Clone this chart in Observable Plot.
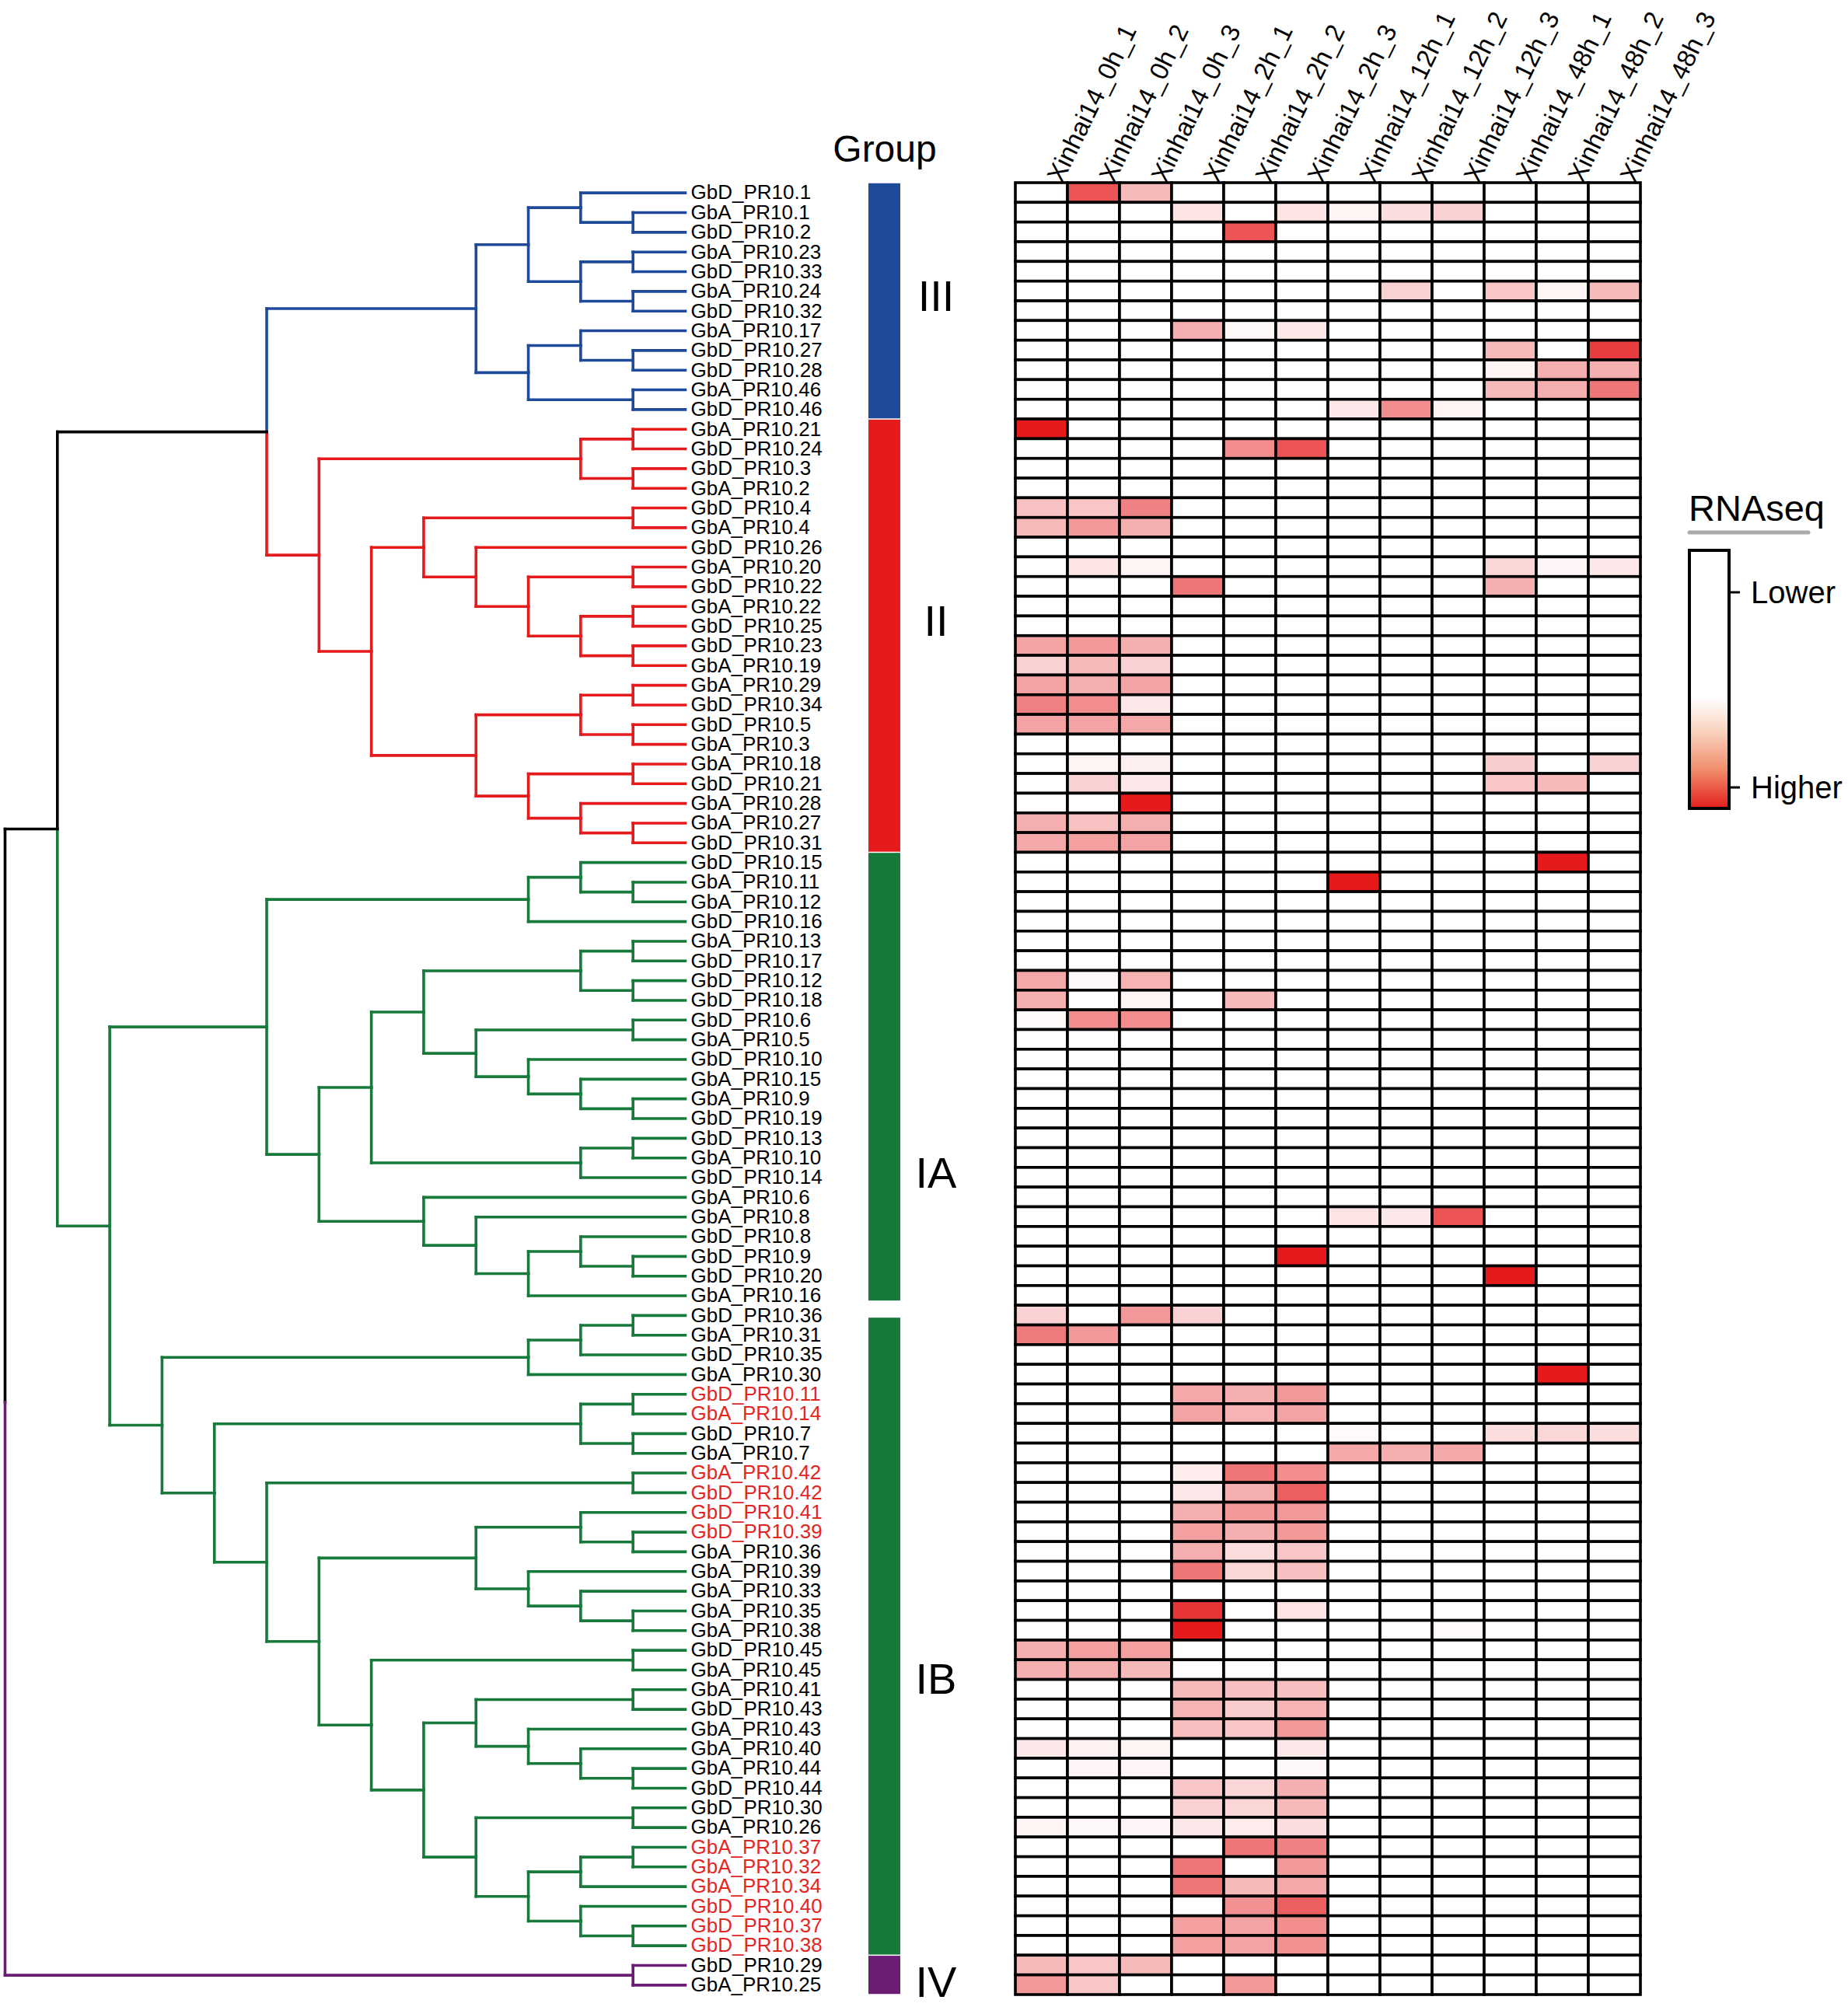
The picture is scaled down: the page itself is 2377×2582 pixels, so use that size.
<!DOCTYPE html>
<html><head><meta charset="utf-8">
<script src="https://cdn.jsdelivr.net/npm/d3@7"></script>
<script src="https://cdn.jsdelivr.net/npm/@observablehq/plot@0.6"></script>
<style>
html,body{margin:0;padding:0;background:#fff;}
#wrap{position:relative;width:2377px;height:2582px;overflow:hidden;background:#fff;}
#wrap svg{position:absolute;left:0;top:0;overflow:visible;}
</style></head><body><div id="wrap"></div>
<script>
// ---------- data ----------
const leaves = [
"GbD_PR10.1","GbA_PR10.1","GbD_PR10.2","GbA_PR10.23","GbD_PR10.33","GbA_PR10.24","GbD_PR10.32","GbA_PR10.17","GbD_PR10.27","GbD_PR10.28","GbA_PR10.46","GbD_PR10.46",
"GbA_PR10.21","GbD_PR10.24","GbD_PR10.3","GbA_PR10.2","GbD_PR10.4","GbA_PR10.4","GbD_PR10.26","GbA_PR10.20","GbD_PR10.22","GbA_PR10.22","GbD_PR10.25","GbD_PR10.23","GbA_PR10.19","GbA_PR10.29","GbD_PR10.34","GbD_PR10.5","GbA_PR10.3","GbA_PR10.18","GbD_PR10.21","GbA_PR10.28","GbA_PR10.27","GbD_PR10.31",
"GbD_PR10.15","GbA_PR10.11","GbA_PR10.12","GbD_PR10.16","GbA_PR10.13","GbD_PR10.17","GbD_PR10.12","GbD_PR10.18","GbD_PR10.6","GbA_PR10.5","GbD_PR10.10","GbA_PR10.15","GbA_PR10.9","GbD_PR10.19","GbD_PR10.13","GbA_PR10.10","GbD_PR10.14","GbA_PR10.6","GbA_PR10.8","GbD_PR10.8","GbD_PR10.9","GbD_PR10.20","GbA_PR10.16",
"GbD_PR10.36","GbA_PR10.31","GbD_PR10.35","GbA_PR10.30","GbD_PR10.11","GbA_PR10.14","GbD_PR10.7","GbA_PR10.7","GbA_PR10.42","GbD_PR10.42","GbD_PR10.41","GbD_PR10.39","GbA_PR10.36","GbA_PR10.39","GbA_PR10.33","GbA_PR10.35","GbA_PR10.38","GbD_PR10.45","GbA_PR10.45","GbA_PR10.41","GbD_PR10.43","GbA_PR10.43","GbA_PR10.40","GbA_PR10.44","GbD_PR10.44","GbD_PR10.30","GbA_PR10.26","GbA_PR10.37","GbA_PR10.32","GbA_PR10.34","GbD_PR10.40","GbD_PR10.37","GbD_PR10.38",
"GbD_PR10.29","GbA_PR10.25"
];
const redLabels = ["GbD_PR10.11","GbA_PR10.14","GbA_PR10.42","GbD_PR10.42","GbD_PR10.41","GbD_PR10.39","GbA_PR10.37","GbA_PR10.32","GbA_PR10.34","GbD_PR10.40","GbD_PR10.37","GbD_PR10.38"];
const columns = ["Xinhai14_0h_1","Xinhai14_0h_2","Xinhai14_0h_3","Xinhai14_2h_1","Xinhai14_2h_2","Xinhai14_2h_3","Xinhai14_12h_1","Xinhai14_12h_2","Xinhai14_12h_3","Xinhai14_48h_1","Xinhai14_48h_2","Xinhai14_48h_3"];
// relative expression (0 = lower, 1 = higher), one row per leaf
const values = [
[0,.75,.3,0,0,0,0,0,0,0,0,0],
[0,0,0,.12,0,.12,.05,.15,.2,0,0,0],
[0,0,0,0,.75,0,0,0,0,0,0,0],
[0,0,0,0,0,0,0,0,0,0,0,0],
[0,0,0,0,0,0,0,0,0,0,0,0],
[0,0,0,0,0,0,0,.2,0,.25,.05,.3],
[0,0,0,0,0,0,0,0,0,0,0,0],
[0,0,0,.35,.03,.1,0,0,0,0,0,0],
[0,0,0,0,0,0,0,0,0,.3,0,.85],
[0,0,0,0,0,0,0,0,0,.05,.35,.35],
[0,0,0,0,0,0,0,0,0,.3,.35,.6],
[0,0,0,0,0,0,.1,.5,.05,0,0,0],
[1,0,0,0,0,0,0,0,0,0,0,0],
[0,0,0,0,.5,.75,0,0,0,0,0,0],
[0,0,0,0,0,0,0,0,0,0,0,0],
[0,0,0,0,0,0,0,0,0,0,0,0],
[.27,.25,.55,0,0,0,0,0,0,0,0,0],
[.3,.45,.35,0,0,0,0,0,0,0,0,0],
[0,0,0,0,0,0,0,0,0,0,0,0],
[0,.12,.05,0,0,0,0,0,0,.18,.04,.1],
[0,0,0,.6,0,0,0,0,0,.35,0,0],
[0,0,0,0,0,0,0,0,0,0,0,0],
[0,0,0,0,0,0,0,0,0,0,0,0],
[.4,.45,.35,0,0,0,0,0,0,0,0,0],
[.2,.3,.2,0,0,0,0,0,0,0,0,0],
[.4,.35,.4,0,0,0,0,0,0,0,0,0],
[.55,.5,.1,0,0,0,0,0,0,0,0,0],
[.4,.4,.38,0,0,0,0,0,0,0,0,0],
[0,0,0,0,0,0,0,0,0,0,0,0],
[0,.05,.07,0,0,0,0,0,0,.22,0,.2],
[0,.2,.1,0,0,0,0,0,0,.25,.3,0],
[0,0,1,0,0,0,0,0,0,0,0,0],
[.35,.27,.35,0,0,0,0,0,0,0,0,0],
[.38,.42,.4,0,0,0,0,0,0,0,0,0],
[0,0,0,0,0,0,0,0,0,0,1,0],
[0,0,0,0,0,0,1,0,0,0,0,0],
[0,0,0,0,0,0,0,0,0,0,0,0],
[0,0,0,0,0,0,0,0,0,0,0,0],
[0,0,0,0,0,0,0,0,0,0,0,0],
[0,0,0,0,0,0,0,0,0,0,0,0],
[.38,.03,.33,0,0,0,0,0,0,0,0,0],
[.35,0,.05,0,.3,0,0,0,0,0,0,0],
[.02,.5,.5,0,0,0,0,0,0,0,0,0],
[0,0,0,0,0,0,0,0,0,0,0,0],
[0,0,0,0,0,0,0,0,0,0,0,0],
[0,0,0,0,0,0,0,0,0,0,0,0],
[0,0,0,0,0,0,0,0,0,0,0,0],
[0,0,0,0,0,0,0,0,0,0,0,0],
[0,0,0,0,0,0,0,0,0,0,0,0],
[0,0,0,0,0,0,0,0,0,0,0,0],
[0,0,0,0,0,0,0,0,0,0,0,0],
[0,0,0,0,0,0,0,0,0,0,0,0],
[0,0,0,0,0,0,.12,.1,.75,0,0,0],
[0,0,0,0,0,0,0,0,0,0,0,0],
[0,0,0,0,0,1,0,0,0,0,0,0],
[0,0,0,0,0,0,0,0,0,1,0,0],
[0,0,0,0,0,0,0,0,0,0,0,0],
[.2,0,.45,.2,0,0,0,0,0,0,0,0],
[.58,.45,0,0,0,0,0,0,0,0,0,0],
[0,0,0,0,0,0,0,0,0,0,0,0],
[0,0,0,0,0,0,0,0,0,0,1,0],
[0,0,0,.38,.35,.45,0,0,0,0,0,0],
[0,0,0,.4,.33,.4,0,0,0,0,0,0],
[0,0,0,0,0,0,.02,0,0,.15,.18,.15],
[0,0,0,0,0,0,.38,.35,.38,0,0,0],
[0,0,0,.08,.6,.5,0,0,0,0,0,0],
[0,0,0,.1,.35,.7,0,0,0,0,0,0],
[0,0,0,.35,.45,.45,0,0,0,0,0,0],
[0,0,0,.42,.35,.45,0,0,0,0,0,0],
[0,0,0,.35,.15,.25,0,0,0,0,0,0],
[0,0,0,.6,.18,.28,0,0,0,0,0,0],
[0,0,0,0,0,0,0,0,0,0,0,0],
[0,0,0,.88,0,.12,0,0,0,0,0,0],
[0,0,0,1,0,0,0,0,.02,0,0,0],
[.35,.42,.42,0,0,0,0,0,0,0,0,0],
[.35,.35,.3,0,0,0,0,0,0,0,0,0],
[0,0,0,.3,.28,.28,0,0,0,0,0,0],
[0,0,0,.33,.22,.33,0,0,0,0,0,0],
[0,0,0,.28,.25,.45,0,0,0,0,0,0],
[.1,.06,.05,0,0,.1,0,0,0,0,0,0],
[0,.04,.04,0,0,.03,0,0,0,0,0,0],
[0,0,0,.25,.18,.35,0,0,0,0,0,0],
[0,0,0,.2,.18,.3,0,0,0,0,0,0],
[.05,.03,.04,.1,.08,.15,0,0,0,0,0,0],
[0,0,0,0,.6,.55,0,0,0,0,0,0],
[0,0,0,.6,0,.45,0,0,0,0,0,0],
[0,0,0,.6,.3,.38,0,0,0,0,0,0],
[0,0,0,0,.48,.7,0,0,0,0,0,0],
[0,0,0,.42,.4,.5,0,0,0,0,0,0],
[0,0,0,.42,.4,.48,0,0,0,0,0,0],
[.3,.25,.3,0,0,0,0,0,0,0,0,0],
[.45,.25,0,0,.45,0,0,0,0,0,0,0]
];
// tree topology: leaves are row numbers, ")n" is the node depth level, trailing letter = clade
const treeNewick = `(
 (
  (
   (((1,(2,3)12)11,((4,5)12,(6,7)12)11)10,((8,(9,10)12)11,(11,12)12)10)9b,
   (((13,14)12,(15,16)12)11,(((17,18)12,(19,((20,21)12,((22,23)12,(24,25)12)11)10)9)8,(((26,27)12,(28,29)12)11,((30,31)12,(32,(33,34)12)11)10)9)7)6r
  )5,
  (
   (((35,(36,37)12)11,38)10,(((((39,40)12,(41,42)12)11,((43,44)12,(45,(46,(47,48)12)11)10)9)8,((49,50)12,51)11)7,(52,(53,((54,(55,56)12)11,57)10)9)8)6)5,
   ((((58,59)12,60)11,61)10,(((62,63)12,(64,65)12)11,((66,67)12,(((68,(69,70)12)11,(71,(72,(73,74)12)11)10)9,((75,76)12,(((77,78)12,(79,(80,(81,82)12)11)10)9,((83,84)12,(((85,86)12,87)11,(88,(89,90)12)11)10)9)8)7)6)5)4)3
  )2g
 )1,
 (91,92)12p
)0`;
const tipLevel = 13;
const groups = [
  {name:"III", from:1,  to:12, labelRow:6.3},
  {name:"II",  from:13, to:34, labelRow:22.8},
  {name:"IA",  from:35, to:57, labelRow:50.8},
  {name:"IB",  from:58, to:90, labelRow:76.5},
  {name:"IV",  from:91, to:92, labelRow:91.9}
];

// ---------- styles ----------
const cladeColor = {b:"#1F4A9A", r:"#E41A1C", g:"#177A3B", p:"#6B1D74", k:"#000000"};
const groupColor = {III:"#1F4A9A", II:"#E41A1C", IA:"#177A3B", IB:"#177A3B", IV:"#6B1D74"};
const groupGap = {IA:[0.03,0.24], IB:[0.63,0.03]};
const FONT = "Liberation Sans, Arial, Helvetica, sans-serif";
const W = 2377, H = 2582, TOP = 235, BOTTOM = 16;

// ---------- parse tree ----------
function parseTree(src){
  const s = src.replace(/\s+/g,""); let i = 0;
  const num = () => { const j = i; while (i < s.length && /[0-9]/.test(s[i])) i++; return +s.slice(j, i); };
  function node(){
    if (s[i] === "("){
      i++; const children = [];
      for(;;){ children.push(node()); if (s[i] === ","){ i++; continue; } if (s[i] === ")"){ i++; break; } throw new Error("bad tree at "+i); }
      const level = num(); let tag = null; if (/[a-z]/.test(s[i] || "")) tag = s[i++];
      return {children, level, tag};
    }
    return {leaf: num(), level: tipLevel};
  }
  return node();
}
const tree = parseTree(treeNewick);
const segs = [];
(function layout(n, color){
  if (n.tag) color = cladeColor[n.tag];
  n.color = color;
  if (n.children){
    n.children.forEach(c => layout(c, color));
    n.y = (n.children[0].y + n.children[n.children.length-1].y) / 2;
    n.children.forEach(c => {
      segs.push({x1:n.level, x2:n.level, y1:n.y, y2:c.y, color:c.color});
      segs.push({x1:n.level, x2:c.level, y1:c.y, y2:c.y, color:c.color});
    });
  } else n.y = n.leaf;
})(tree, cladeColor.k);

const leafData = leaves.map((name, i) => ({name, row: i + 1, color: redLabels.includes(name) ? "#E3261F" : "#000000"}));

const wrap = document.getElementById("wrap");

// ---------- tree + labels ----------
wrap.appendChild(Plot.plot({
  width: W, height: H, marginLeft: 6, marginRight: W - 881, marginTop: TOP, marginBottom: BOTTOM,
  style: {background: "transparent", fontFamily: FONT},
  x: {domain: [0, tipLevel], axis: null},
  y: {domain: [0.5, leaves.length + 0.5], reverse: true, axis: null},
  color: {type: "identity"},
  marks: [
    Plot.link(segs, {x1: "x1", y1: "y1", x2: "x2", y2: "y2", stroke: "color", strokeWidth: 3.6, strokeLinecap: "square"}),
    Plot.text(leafData, {x: () => tipLevel, y: "row", text: "name", fill: "color", dx: 7, textAnchor: "start", fontSize: 26})
  ]
}));

// ---------- group bar ----------
wrap.appendChild(Plot.plot({
  width: W, height: H, marginLeft: 1117, marginRight: W - 1158, marginTop: TOP, marginBottom: BOTTOM,
  style: {background: "transparent", fontFamily: FONT},
  x: {domain: ["Group"], padding: 0, axis: null},
  y: {domain: [0.5, leaves.length + 0.5], reverse: true, axis: null},
  color: {type: "identity"},
  marks: [
    Plot.barY(groups, {x: () => "Group",
      y1: d => d.from - 0.5 + (groupGap[d.name] ? groupGap[d.name][0] : 0.03),
      y2: d => d.to + 0.5 - (groupGap[d.name] ? groupGap[d.name][1] : 0.03),
      fill: d => groupColor[d.name]}),
    Plot.text(groups, {x: () => "Group", y: "labelRow", text: "name", dx: 66, fontSize: 56, fill: "#000"}),
    Plot.text(["Group"], {x: d => d, frameAnchor: "top", text: d => d, dy: -28, lineAnchor: "bottom", fontSize: 48, fill: "#000"})
  ]
}));

// ---------- heatmap ----------
const cells = [];
values.forEach((row, r) => row.forEach((v, c) => cells.push({row: r + 1, col: columns[c], v})));
wrap.appendChild(Plot.plot({
  width: W, height: H, marginLeft: 1305, marginRight: W - 2110, marginTop: TOP, marginBottom: BOTTOM,
  style: {background: "transparent", fontFamily: FONT},
  x: {domain: columns, padding: 0, axis: null},
  y: {domain: d3.range(1, leaves.length + 1), padding: 0, axis: null},
  color: {type: "linear", domain: [0, 1], range: ["#ffffff", "#E41A1C"], interpolate: "rgb"},
  marks: [
    Plot.cell(cells, {x: "col", y: "row", fill: "v", stroke: "#000", strokeWidth: 3.6, inset: 0}),
    Plot.text(columns, {x: d => d, frameAnchor: "top", text: d => d, rotate: -64, textAnchor: "start", dx: 5, dy: -9, fontSize: 33, fill: "#000"})
  ]
}));

// ---------- legend ----------
const leg = d3.create("svg").attr("width", W).attr("height", H).style("font-family", FONT);
const grad = leg.append("defs").append("linearGradient").attr("id", "rg").attr("x1", 0).attr("y1", 0).attr("x2", 0).attr("y2", 1);
[[0,"#ffffff"],[0.57,"#ffffff"],[0.7,"#F9D3C0"],[0.85,"#F08E6C"],[1,"#E41E1C"]].forEach(([o,c]) => grad.append("stop").attr("offset", o).attr("stop-color", c));
leg.append("text").attr("x", 2172).attr("y", 670).attr("font-size", 47).text("RNAseq");
leg.append("line").attr("x1", 2173).attr("x2", 2326).attr("y1", 685).attr("y2", 685).attr("stroke", "#aaaaaa").attr("stroke-width", 5).attr("stroke-linecap", "round");
leg.append("rect").attr("x", 2173).attr("y", 708).attr("width", 51).attr("height", 332).attr("fill", "url(#rg)").attr("stroke", "#000").attr("stroke-width", 4);
[["Lower", 762], ["Higher", 1013]].forEach(([t, y]) => {
  leg.append("line").attr("x1", 2224).attr("x2", 2238).attr("y1", y).attr("y2", y).attr("stroke", "#000").attr("stroke-width", 3);
  leg.append("text").attr("x", 2252).attr("y", y).attr("dy", "0.36em").attr("font-size", 40).text(t);
});
wrap.appendChild(leg.node());
</script></body></html>
